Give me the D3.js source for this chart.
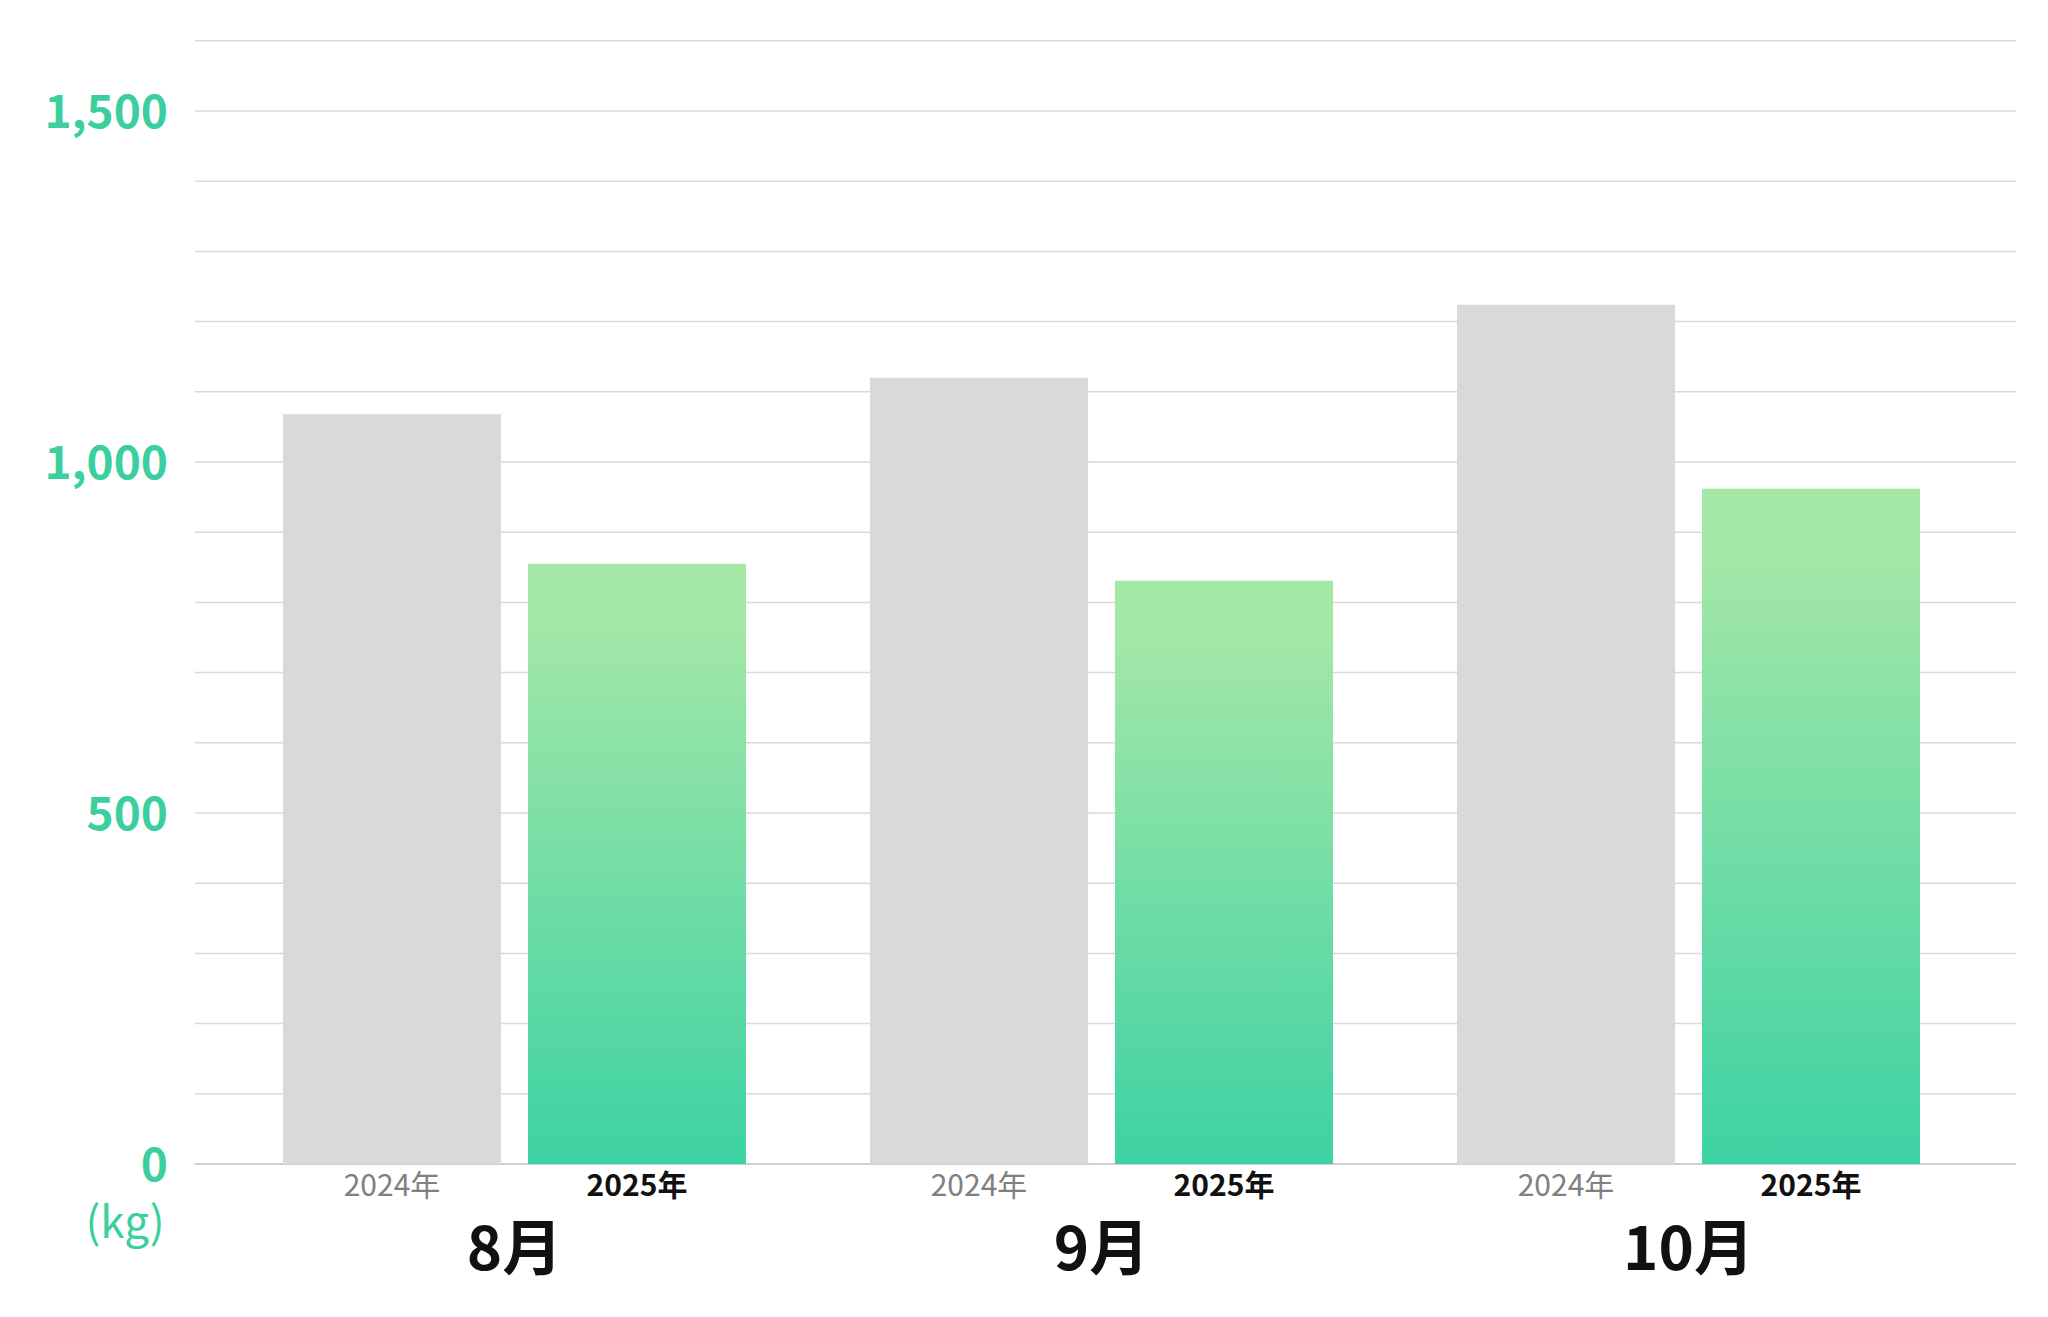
<!DOCTYPE html>
<html><head><meta charset="utf-8">
<script src="https://cdn.jsdelivr.net/npm/d3@7"></script>
<style>body{margin:0;background:#fff}svg{display:block}</style>
</head><body><svg id="c" width="2048" height="1317"></svg>
<script>
const months = ["8月","9月","10月"];
const years = ["2024年","2025年"];
const v2024 = [1068, 1120, 1224];
const v2025 = [855, 831, 962];
const yTicks = [0, 500, 1000, 1500];
const gridTicks = d3.range(0, 1601, 100);

const svg = d3.select("#c");
const font = "'Noto Sans CJK JP','Noto Sans',sans-serif";
const y = d3.scaleLinear().domain([0, 1500]).range([1164, 111]);
const x0 = d3.scaleBand().domain(months).range([221, 1982]);
const x1 = d3.scaleBand().domain(years).range([62, 525]).paddingInner(0.11);

const defs = svg.append("defs");
const g = defs.append("linearGradient").attr("id","grn").attr("x1",0).attr("y1",0).attr("x2",0).attr("y2",1);
g.append("stop").attr("offset","0%").attr("stop-color","#a5e8a6");
g.append("stop").attr("offset","10%").attr("stop-color","#a3e7a7");
g.append("stop").attr("offset","100%").attr("stop-color","#3dd2a4");

svg.append("g").selectAll("line").data(gridTicks).join("line")
  .attr("x1",195).attr("x2",2016).attr("y1",d=>y(d)).attr("y2",d=>y(d))
  .attr("stroke",d=>d===0?"#bfbfbf":"#d9d9d9").attr("stroke-width",1.5);

svg.append("g").selectAll("text").data(yTicks).join("text")
  .attr("x",168).attr("y",d=>y(d)).attr("dy","0.36em").attr("text-anchor","end")
  .attr("font-family",font).attr("font-weight",700).attr("font-size",46).attr("fill","#3ccf9e")
  .text(d=>d3.format(",")(d));
svg.append("text").attr("x",125).attr("y",1222).attr("dy","0.36em").attr("text-anchor","middle")
  .attr("font-family",font).attr("font-size",44).attr("fill","#3ccf9e").text("(kg)");

const data = months.map((m,i)=>({m, vals:[{k:years[0],v:v2024[i]},{k:years[1],v:v2025[i]}]}));
const grp = svg.append("g").selectAll("g").data(data).join("g").attr("transform",d=>`translate(${x0(d.m)},0)`);
grp.selectAll("rect").data(d=>d.vals).join("rect")
  .attr("x",d=>x1(d.k)).attr("width",x1.bandwidth())
  .attr("y",d=>y(d.v)).attr("height",d=>y(0)-y(d.v))
  .attr("fill",(d,i)=>i===0?"#d9d9d9":"url(#grn)");
grp.selectAll("text.yr").data(d=>d.vals).join("text").attr("class","yr")
  .attr("x",d=>x1(d.k)+x1.bandwidth()/2).attr("y",1185).attr("dy","0.36em").attr("text-anchor","middle")
  .attr("font-family",font).attr("font-size",30).attr("font-weight",(d,i)=>i===0?400:700)
  .attr("fill",(d,i)=>i===0?"#808080":"#111").text(d=>d.k);
grp.append("text").attr("x",x0.bandwidth()/2).attr("y",1248).attr("dy","0.36em").attr("text-anchor","middle")
  .attr("font-family",font).attr("font-size",60).attr("font-weight",700).attr("fill","#111").text(d=>d.m);
</script></body></html>
